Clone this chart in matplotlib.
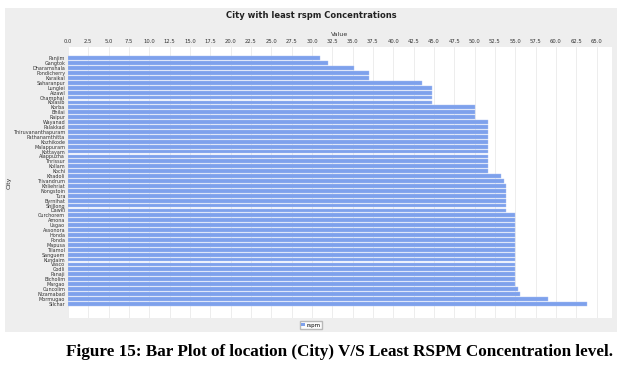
#!/usr/bin/env python3
"""Horizontal bar chart: cities with least RSPM concentration."""

import matplotlib
matplotlib.use("Agg")
import matplotlib.pyplot as plt
from matplotlib.patches import Rectangle, Patch
import numpy as np

cities = [
    "Panjim", "Gangtok", "Dharamshala", "Pondicherry", "Karaikal", "Saharanpur",
    "Lunglei", "Aizawl", "Champhai", "Kolasib", "Korba", "Bhilai", "Raipur",
    "Wayanad", "Palakkad", "Thiruvananthapuram", "Pathanamthitta", "Kozhikode",
    "Malappuram", "Kottayam", "Alappuzha", "Thrissur", "Kollam", "Kochi",
    "Khadoli", "Trivandrum", "Khliehriat", "Nongstoin", "Tura", "Byrnihat",
    "Shillong", "Dawki", "Curchorem", "Amona", "Usgao", "Assonora", "Honda",
    "Ponda", "Mapusa", "Tilamol", "Sanguem", "Kundaim", "Vasco", "Codli",
    "Panaji", "Bicholim", "Margao", "Cuncolim", "Nizamabad", "Mormugao", "Silchar",
]
rspm = [
    31.0, 32.0, 35.2, 37.0, 37.0, 43.5,
    44.8, 44.8, 44.8, 44.8, 50.0, 50.0, 50.0,
    51.7, 51.7, 51.7, 51.7, 51.7,
    51.7, 51.7, 51.7, 51.7, 51.7, 51.7,
    53.3, 53.6, 53.9, 53.9, 53.9, 53.9,
    53.9, 53.9, 55.0, 55.0, 55.0, 55.0, 55.0,
    55.0, 55.0, 55.0, 55.0, 55.0, 55.0, 55.0,
    55.0, 55.0, 55.0, 55.3, 55.6, 59.0, 63.8,
]
x_ticks = np.arange(0, 65.1, 2.5)

BAR = "#7ea1ec"

fig = plt.figure(figsize=(6.22, 3.79), dpi=100)
fig.patch.set_facecolor("white")

# grey chart panel behind everything
fig.patches.append(Rectangle((5 / 622, 1 - 332 / 379), 612 / 622, 324 / 379,
                             transform=fig.transFigure, facecolor="#eeeeee",
                             edgecolor="none", zorder=-10))

ax = fig.add_axes([68 / 622, 1 - 318 / 379, 544 / 622, 271 / 379])
ax.set_zorder(1)
ax.set_facecolor("white")

y = np.arange(len(cities))
ax.barh(y, rspm, height=0.78, color=BAR, edgecolor="#a9c0f2", linewidth=0.3, zorder=2)

ax.set_yticks(y)
ax.set_yticklabels(cities, fontsize=3.5)
ax.set_ylim(len(cities) - 0.5 + 2.4, -0.5 - 1.8)
ax.set_xlim(0, 66.9)
ax.set_xticks(x_ticks)
ax.set_xticklabels([f"{v:.1f}" for v in x_ticks], fontsize=3.8)
ax.xaxis.tick_top()
ax.xaxis.set_label_position("top")
ax.tick_params(axis="both", length=0, pad=2, colors="#333333")
ax.grid(axis="x", color="#e6e6e6", linewidth=0.5, zorder=0)
ax.set_axisbelow(True)
for s in ax.spines.values():
    s.set_visible(False)

ax.set_xlabel("Value", fontsize=4.5, labelpad=2, color="#333333")
ax.set_ylabel("City", fontsize=4.5, color="#333333")
ax.yaxis.set_label_coords((12 - 68) / 544, 0.5)

fig.text(0.5, 1 - 16 / 379, "City with least rspm Concentrations", ha="center",
         va="center", fontsize=6, fontweight="bold", color="#222222")

leg = fig.legend(handles=[Patch(facecolor=BAR, label="rspm")], loc="center",
                 bbox_to_anchor=(0.5, 1 - 325 / 379), fontsize=4, frameon=True,
                 handlelength=0.6, handleheight=0.6, handletextpad=0.3,
                 borderpad=0.3, fancybox=False, edgecolor="#aaaaaa")
leg.set_zorder(2)

fig.text(339 / 622, 1 - 352 / 379,
         "Figure 15: Bar Plot of location (City) V/S Least RSPM Concentration level.",
         ha="center", va="center", fontsize=12.3, fontweight="bold",
         family="Liberation Serif")

fig.savefig("out.png", dpi=100)
